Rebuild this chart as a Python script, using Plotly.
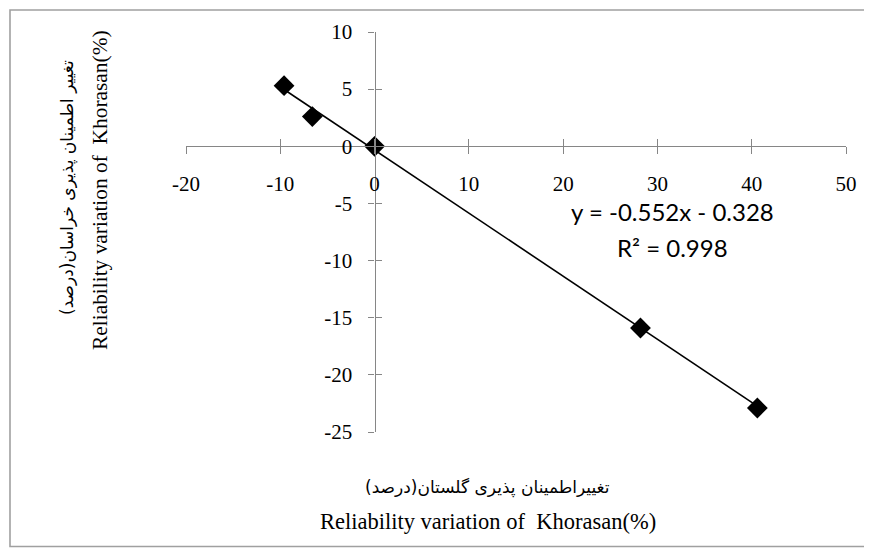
import plotly.graph_objects as go

# Data
x_golestan = [-9.6, -6.6, 0.0, 28.2, 40.6]
y_khorasan = [5.3, 2.6, 0.0, -15.9, -22.9]

slope = -0.552
intercept = -0.328
r_squared = 0.998

x_ticks = [-20, -10, 0, 10, 20, 30, 40, 50]
x_tick_labels = ["-20", "-10", "0", "10", "20", "30", "40", "50"]
y_ticks = [10, 5, 0, -5, -10, -15, -20, -25]
y_tick_labels = ["10", "5", "0", "-5", "-10", "-15", "-20", "-25"]

x_range = [-20, 50]
y_range = [-25, 10]

x_title_fa = "تغییراطمینان پذیری گلستان(درصد)"
y_title_fa = "تغییر اطمینان پذیری خراسان(درصد)"
title_en = "Reliability variation of&nbsp; Khorasan(%)"

AXIS_GREY = "#868686"
SERIF = "Liberation Serif, Times New Roman, serif"
PERSIAN = "DejaVu Sans"

# trend line endpoints from data
tx = [min(x_golestan), max(x_golestan)]
ty = [slope * v + intercept for v in tx]

fig = go.Figure()
fig.add_trace(go.Scatter(x=tx, y=ty, mode="lines",
                         line=dict(color="black", width=1.6),
                         hoverinfo="skip", showlegend=False))
fig.add_trace(go.Scatter(x=x_golestan, y=y_khorasan, mode="markers",
                         marker=dict(symbol="diamond", size=16, color="black"),
                         showlegend=False))
# invisible trace for the overlay axes (cross ticks)
fig.add_trace(go.Scatter(x=[0], y=[0], xaxis="x2", yaxis="y2", mode="markers",
                         marker=dict(opacity=0), hoverinfo="skip", showlegend=False))

xpos = (0 - y_range[0]) / (y_range[1] - y_range[0])
ypos = (0 - x_range[0]) / (x_range[1] - x_range[0])

common = dict(showgrid=False, zeroline=False, tickcolor=AXIS_GREY, tickwidth=1)

# page offset of the figure (browser body margin)
OFF = 8
L, T, PW, PH = 186, 32, 660, 400  # plot area in page pixels

fig.update_layout(
    width=872 - OFF, height=548 - OFF,
    margin=dict(l=L - OFF, r=872 - L - PW, t=T - OFF, b=548 - T - PH),
    paper_bgcolor="white", plot_bgcolor="white",
    xaxis=dict(range=x_range, domain=[0, 1], anchor="free", position=xpos,
               showline=True, linecolor=AXIS_GREY, linewidth=1.3,
               ticks="outside", ticklen=7, tickvals=x_ticks, ticktext=x_tick_labels,
               tickfont=dict(family=SERIF, size=21, color="black"),
               ticklabelstandoff=11, **common),
    yaxis=dict(range=y_range, domain=[0, 1], anchor="free", position=ypos,
               showline=True, linecolor=AXIS_GREY, linewidth=1.3,
               ticks="outside", ticklen=6, tickvals=y_ticks, ticktext=y_tick_labels,
               tickfont=dict(family=SERIF, size=21, color="black"),
               ticklabelstandoff=12, **common),
    xaxis2=dict(range=x_range, overlaying="x", anchor="free", position=xpos,
                showline=False, ticks="inside", ticklen=7, tickvals=x_ticks,
                showticklabels=False, **common),
    yaxis2=dict(range=y_range, overlaying="y", anchor="free", position=ypos,
                showline=False, ticks="inside", ticklen=6, tickvals=y_ticks,
                showticklabels=False, **common),
    showlegend=False,
)

def px_x(p):
    return (p - L) / PW

def px_y(p):
    return (T + PH - p) / PH

# outer chart border
fig.add_shape(type="rect", xref="paper", yref="paper",
              x0=px_x(10), x1=px_x(870.5), y0=px_y(546.5), y1=px_y(10),
              line=dict(color="#a0a0a0", width=1.6), layer="below")

ann = dict(xref="paper", yref="paper", showarrow=False, xanchor="center", yanchor="middle")
# x-axis title
fig.add_annotation(x=px_x(487), y=px_y(487), text=x_title_fa,
                   font=dict(family=PERSIAN, size=17, color="black"), **ann)
fig.add_annotation(x=px_x(488), y=px_y(521), text=title_en,
                   font=dict(family=SERIF, size=22.5, color="black"), **ann)
# y-axis title
fig.add_annotation(x=px_x(67), y=px_y(188), text=y_title_fa, textangle=-90,
                   font=dict(family=PERSIAN, size=17, color="black"), **ann)
fig.add_annotation(x=px_x(100), y=px_y(190), text=title_en, textangle=-90,
                   font=dict(family=SERIF, size=21.4, color="black"), **ann)

# trendline equation
eqfont = dict(family="Lato, Open Sans, sans-serif", size=24, color="black")
fig.add_annotation(x=31.6, y=-5.74, text=f"y = {slope}x - {abs(intercept)}",
                   showarrow=False, xanchor="center", yanchor="middle", font=eqfont)
fig.add_annotation(x=31.6, y=-8.84, text=f"R² = {r_squared}",
                   showarrow=False, xanchor="center", yanchor="middle", font=eqfont)

fig.write_html("out.html")
